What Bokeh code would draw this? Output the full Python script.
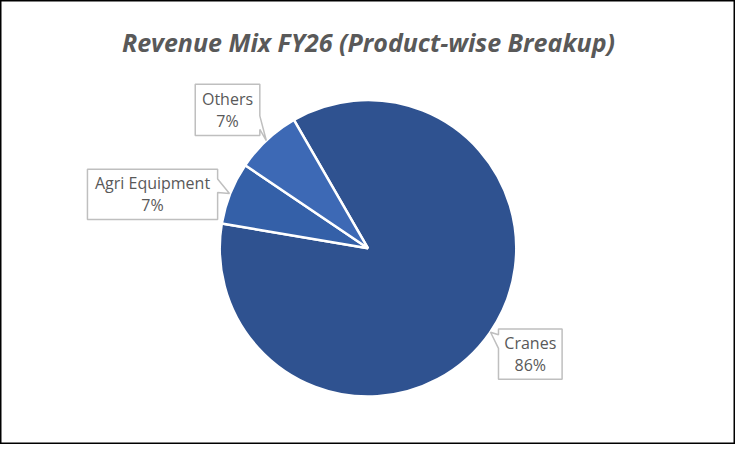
import math

from bokeh.core.properties import value
from bokeh.embed import file_html
from bokeh.models import ColumnDataSource, Range1d
from bokeh.plotting import figure
from bokeh.resources import INLINE

# data
categories = ["Cranes", "Agri Equipment", "Others"]
shares = [86.0, 6.8, 7.2]
pct_labels = ["86%", "7%", "7%"]
colors = ["#2F5290", "#3460A8", "#3D69B5"]
title_text = "Revenue Mix FY26 (Product-wise Breakup)"

# layout (reference pixels; data y = 460 - picture y)
W, H = 735, 444
CX, CY = 375.5, 460 - 256.7
R = 151.5
START = math.radians(120)
# box centre offset from pointer tip (data units), box width, box height
box_offsets = [(40.6, -22.6), (-78.6, -0.8), (-39.6, 31.8)]
box_sizes = [(65, 52), (133, 52), (66, 53)]
FONT = "Open Sans"
TEXT_COLOR = "#595959"

total = sum(shares)
starts, ends, mids = [], [], []
cum = 0.0
for s in shares:
    a0 = START - 2 * math.pi * cum / total
    cum += s
    a1 = START - 2 * math.pi * cum / total
    starts.append(a1)
    ends.append(a0)
    mids.append((a0 + a1) / 2)

wedges = ColumnDataSource(dict(start=starts, end=ends, color=colors, name=categories))

p = figure(width=W, height=H, output_backend="svg", toolbar_location=None,
           x_range=Range1d(0, 751), y_range=Range1d(0, 460), min_border=0)
p.axis.visible = False
p.grid.visible = False
p.background_fill_color = "white"
p.border_fill_color = "white"
p.outline_line_color = "black"
p.outline_line_width = 2

p.wedge(x=CX, y=CY, radius=R, start_angle="start", end_angle="end",
        fill_color="color", line_color="white", line_width=2.5, source=wedges)

# callout boxes with pointers
xs, ys, name_x, name_y, pct_y = [], [], [], [], []
for mid, (ox, oy), (bw, bh) in zip(mids, box_offsets, box_sizes):
    tx = CX + (R + 1) * math.cos(mid)
    ty = CY + (R + 1) * math.sin(mid)
    bx, by = tx + ox, ty + oy
    left, right = bx - bw / 2, bx + bw / 2
    bottom, top = by - bh / 2, by + bh / 2
    base = min(max(ty + 8, bottom + bh * 0.25), top - bh * 0.25)
    b1, b2 = base + 7, base - 7
    if tx > right:
        px = [left, right, right, tx, right, right, left]
        py = [top, top, b1, ty, b2, bottom, bottom]
    else:
        px = [left, right, right, left, left, tx, left]
        py = [top, top, bottom, bottom, b2, ty, b1]
    xs.append(px)
    ys.append(py)
    name_x.append(bx)
    name_y.append(by + 11.5)
    pct_y.append(by - 11.5)

p.patches(xs=xs, ys=ys, fill_color="white", line_color="#BFBFBF", line_width=1.5)

labels = ColumnDataSource(dict(x=name_x, ny=name_y, py=pct_y, name=categories, pct=pct_labels))
for col, txt in (("ny", "name"), ("py", "pct")):
    p.text(x="x", y=col, text=txt, source=labels, text_font=value(FONT),
           text_font_size="16px", text_color=TEXT_COLOR,
           text_align="center", text_baseline="middle")

p.text(x=[376], y=[460 - 43.3], text=[title_text], text_font=value(FONT),
       text_font_size="25px", text_font_style="bold italic", text_color=TEXT_COLOR,
       text_align="center", text_baseline="alphabetic")

open("out.html", "w").write(file_html(p, INLINE))
